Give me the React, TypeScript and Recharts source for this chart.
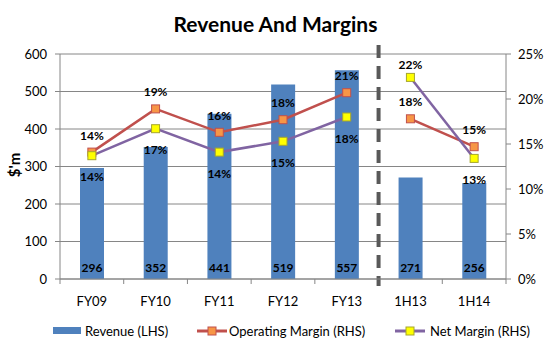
import { ComposedChart, Bar, Line, XAxis, YAxis, CartesianGrid, LabelList, ReferenceLine } from 'recharts';

const categories = ['FY09', 'FY10', 'FY11', 'FY12', 'FY13', '1H13', '1H14'];
const periods = ['FY', 'FY', 'FY', 'FY', 'FY', '1H', '1H'];
const revenue = [296, 352, 441, 519, 557, 271, 256];
const operatingMargin = [14.1, 18.9, 16.3, 17.7, 20.7, 17.8, 14.7];
const netMargin = [13.7, 16.7, 14.1, 15.3, 18.0, 22.4, 13.4];
const revenueTicks = [0, 100, 200, 300, 400, 500, 600];
const marginTicks = [0, 5, 10, 15, 20, 25];

const data = categories.map((name, i) => ({
    name,
    revenue: revenue[i],
    op: operatingMargin[i],
    net: netMargin[i],
    opFY: periods[i] === 'FY' ? operatingMargin[i] : null,
    opH: periods[i] === '1H' ? operatingMargin[i] : null,
    netFY: periods[i] === 'FY' ? netMargin[i] : null,
    netH: periods[i] === '1H' ? netMargin[i] : null,
}));

const FONT = 'Lato, "DejaVu Sans", sans-serif';
const AXIS = '#868686';
const BLUE = '#4F81BD';
const RED = '#C0504D';
const ORANGE = '#F79646';
const PURPLE = '#8064A2';
const YELLOW = '#FFFF00';
const OLIVE = '#A6A62E';

const squareDot = (fill: string, stroke: string) => (props: any) => {
    const { cx, cy, index } = props;
    if (cx == null || cy == null) return <g key={`d-${index}`} />;
    return <rect key={`d-${index}`} x={cx - 4} y={cy - 4} width={8} height={8} fill={fill} stroke={stroke} strokeWidth={1} />;
};

const pct = (v: number) => `${Math.round(v)}%`;

const opLabel = (props: any) => {
    const { x, y, value, index } = props;
    if (value == null || x == null) return null;
    return (
        <text key={`ol-${index}`} x={x} y={y - 17} textAnchor="middle" dominantBaseline="central" fontSize={12} fontWeight={700} fill="#000" fontFamily={FONT}>
            {pct(value)}
        </text>
    );
};

const netLabel = (props: any) => {
    const { x, y, value, index } = props;
    if (value == null || x == null) return null;
    const above = value > data[index].op;
    return (
        <text key={`nl-${index}`} x={x} y={above ? y - 13 : y + 21} textAnchor="middle" dominantBaseline="central" fontSize={12} fontWeight={700} fill="#000" fontFamily={FONT}>
            {pct(value)}
        </text>
    );
};

const revLabel = (props: any) => {
    const { x, y, width, height, value, index } = props;
    return (
        <text key={`rl-${index}`} x={x + width / 2} y={y + height - 12} textAnchor="middle" dominantBaseline="central" fontSize={12} fontWeight={700} fill="#000" fontFamily={FONT}>
            {value}
        </text>
    );
};

// short tick marks under the axis, drawn at category boundaries like Excel does
const boundaryTick = (props: any) => {
    const bottom = Math.max(props.y1, props.y2);
    return <line x1={props.x1} x2={props.x1} y1={bottom} y2={bottom + 5} stroke={AXIS} strokeWidth={1} />;
};

const dividerLine = (props: any) => {
    const top = Math.min(props.y1, props.y2);
    const bottom = Math.max(props.y1, props.y2);
    return <line x1={props.x1} x2={props.x1} y1={top - 9} y2={bottom + 7} stroke="#595959" strokeWidth={4} strokeDasharray="13 8" />;
};

const tickStyle = { fontSize: 13, fill: '#000', fontFamily: FONT };

export default function App() {
    return (
        <div style={{ position: 'relative', width: 551, height: 347, background: '#fff', fontFamily: FONT }}>
            <style>{`body{margin:0}`}</style>
            <div style={{ position: 'absolute', top: 11, left: 0, width: 551, textAlign: 'center', fontSize: 21, fontWeight: 700, color: '#000' }}>
                Revenue And Margins
            </div>
            <ComposedChart width={551} height={347} data={data} margin={{ top: 54, right: 0, bottom: 38, left: 0 }}>
                <CartesianGrid yAxisId="left" vertical={false} stroke={AXIS} />
                <XAxis dataKey="name" height={30} tick={tickStyle} tickLine={false} axisLine={{ stroke: AXIS }} tickMargin={12} />
                <YAxis yAxisId="left" width={60} domain={[0, 600]} ticks={revenueTicks} tick={tickStyle} tickSize={5} tickMargin={8} tickLine={{ stroke: AXIS }} axisLine={{ stroke: AXIS }} />
                <YAxis yAxisId="right" orientation="right" width={45} domain={[0, 25]} ticks={marginTicks} tickFormatter={(v) => `${v}%`} tick={tickStyle} tickSize={5} tickMargin={7} tickLine={{ stroke: AXIS }} axisLine={{ stroke: AXIS }} />
                <Bar yAxisId="left" dataKey="revenue" fill={BLUE} barSize={24} isAnimationActive={false}>
                    <LabelList dataKey="revenue" content={revLabel} />
                </Bar>
                {categories.map((c) => (
                    <ReferenceLine key={`t-${c}`} yAxisId="left" x={c} position="start" shape={boundaryTick} />
                ))}
                <ReferenceLine yAxisId="left" x="1H14" position="end" shape={boundaryTick} />
                <ReferenceLine yAxisId="left" x="FY13" position="end" shape={dividerLine} />
                <Line yAxisId="right" dataKey="opFY" stroke={RED} strokeWidth={2.5} dot={squareDot(ORANGE, RED)} isAnimationActive={false}>
                    <LabelList dataKey="opFY" content={opLabel} />
                </Line>
                <Line yAxisId="right" dataKey="opH" stroke={RED} strokeWidth={2.5} dot={squareDot(ORANGE, RED)} isAnimationActive={false}>
                    <LabelList dataKey="opH" content={opLabel} />
                </Line>
                <Line yAxisId="right" dataKey="netFY" stroke={PURPLE} strokeWidth={2.5} dot={squareDot(YELLOW, OLIVE)} isAnimationActive={false}>
                    <LabelList dataKey="netFY" content={netLabel} />
                </Line>
                <Line yAxisId="right" dataKey="netH" stroke={PURPLE} strokeWidth={2.5} dot={squareDot(YELLOW, OLIVE)} isAnimationActive={false}>
                    <LabelList dataKey="netH" content={netLabel} />
                </Line>
            </ComposedChart>
            <div style={{ position: 'absolute', left: 2, top: 165, transform: 'translateY(-50%) rotate(-90deg)', fontSize: 15, fontWeight: 700, color: '#000' }}>$'m</div>
            <div style={{ position: 'absolute', top: 322, left: 0, width: 551, height: 18, fontSize: 13, color: '#000' }}>
                <div style={{ position: 'absolute', left: 53, top: 5, width: 28, height: 7, background: BLUE }} />
                <div style={{ position: 'absolute', left: 85, top: 0, lineHeight: '18px' }}>Revenue (LHS)</div>
                <svg style={{ position: 'absolute', left: 197, top: 0 }} width={30} height={18}>
                    <line x1={0} x2={30} y1={9} y2={9} stroke={RED} strokeWidth={3} />
                    <rect x={11} y={5} width={8} height={8} fill={ORANGE} stroke={RED} />
                </svg>
                <div style={{ position: 'absolute', left: 229, top: 0, lineHeight: '18px' }}>Operating Margin (RHS)</div>
                <svg style={{ position: 'absolute', left: 395, top: 0 }} width={30} height={18}>
                    <line x1={0} x2={30} y1={9} y2={9} stroke={PURPLE} strokeWidth={3} />
                    <rect x={11} y={5} width={8} height={8} fill={YELLOW} stroke={OLIVE} />
                </svg>
                <div style={{ position: 'absolute', left: 430, top: 0, lineHeight: '18px' }}>Net Margin (RHS)</div>
            </div>
        </div>
    );
}
